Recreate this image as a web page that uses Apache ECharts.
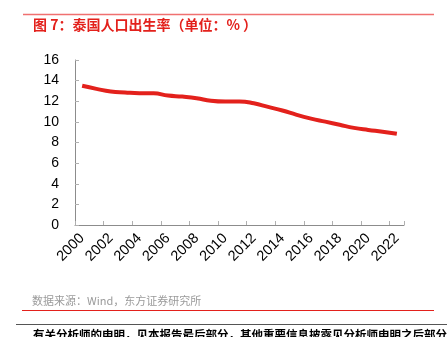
<!DOCTYPE html>
<html>
<head>
<meta charset="utf-8">
<style>
  html, body { margin: 0; padding: 0; background: #fff; }
  #chart { width: 447px; height: 337px; }
</style>
<script src="https://cdn.jsdelivr.net/npm/echarts@6/dist/echarts.min.js"></script>
</head>
<body>
<div id="chart"></div>
<script>
// 泰国人口出生率 2000-2022（‰）
const years = ['2000','2001','2002','2003','2004','2005','2006','2007','2008','2009','2010','2011',
               '2012','2013','2014','2015','2016','2017','2018','2019','2020','2021','2022'];
const birthRate = [13.5, 13.2, 12.95, 12.85, 12.78, 12.77, 12.55, 12.45, 12.3, 12.05, 11.97, 11.97,
                   11.8, 11.45, 11.1, 10.68, 10.32, 10.02, 9.72, 9.42, 9.22, 9.05, 8.84];
const yTicks = { min: 0, max: 16, step: 2 };

const titleText = '图 7：泰国人口出生率（单位：% ）';
const sourceText = '数据来源：Wind，东方证券研究所';
const footerText = '有关分析师的申明，见本报告最后部分，其他重要信息披露见分析师申明之后部分';

const cjk = '"Noto Sans CJK SC", "Liberation Sans", sans-serif';
const latin = '"Liberation Sans", Arial, sans-serif';

const chart = echarts.init(document.getElementById('chart'), null, { renderer: 'canvas' });
chart.setOption({
  animation: false,
  backgroundColor: '#fff',
  grid: { left: 75, right: 43, top: 60, bottom: 112, containLabel: false },
  xAxis: {
    type: 'category',
    data: years,
    boundaryGap: true,
    axisLine: { lineStyle: { color: '#8c8c8c', width: 1 } },
    axisTick: { show: true, inside: true, length: 4, interval: 1, lineStyle: { color: '#b0b0b0' } },
    axisLabel: {
      interval: 1, rotate: 45, margin: 11,
      color: '#000', fontSize: 14.5, fontFamily: latin
    },
    splitLine: { show: false }
  },
  yAxis: {
    type: 'value',
    min: yTicks.min, max: yTicks.max, interval: yTicks.step,
    axisLine: { show: true, lineStyle: { color: '#8c8c8c', width: 1 } },
    axisTick: { show: true, inside: true, length: 4, lineStyle: { color: '#b0b0b0' } },
    axisLabel: { color: '#000', fontSize: 14, fontFamily: latin, margin: 16 },
    splitLine: { show: false }
  },
  series: [{
    type: 'line',
    data: birthRate,
    smooth: true,
    symbol: 'none',
    lineStyle: { color: '#e3211c', width: 4 },
    itemStyle: { color: '#e3211c' }
  }],
  graphic: [
    { type: 'line', shape: { x1: 23, y1: 14.5, x2: 434, y2: 14.5 }, style: { stroke: '#f07070', lineWidth: 1.5 } },
    { type: 'text', left: 33, top: 18, style: { text: titleText, fill: '#e3211c', font: 'bold 14px ' + cjk } },
    { type: 'text', left: 32, top: 295, style: { text: sourceText, fill: '#9a9a9a', font: '11px ' + cjk } },
    { type: 'line', shape: { x1: 22, y1: 310.5, x2: 434, y2: 310.5 }, style: { stroke: '#e3211c', lineWidth: 1 } },
    { type: 'line', shape: { x1: 16, y1: 324.5, x2: 447, y2: 324.5 }, style: { stroke: '#555', lineWidth: 1.2 } },
    { type: 'text', left: 33, top: 329, style: { text: footerText, fill: '#000', font: 'bold 11.5px ' + cjk } }
  ]
});
</script>
</body>
</html>
